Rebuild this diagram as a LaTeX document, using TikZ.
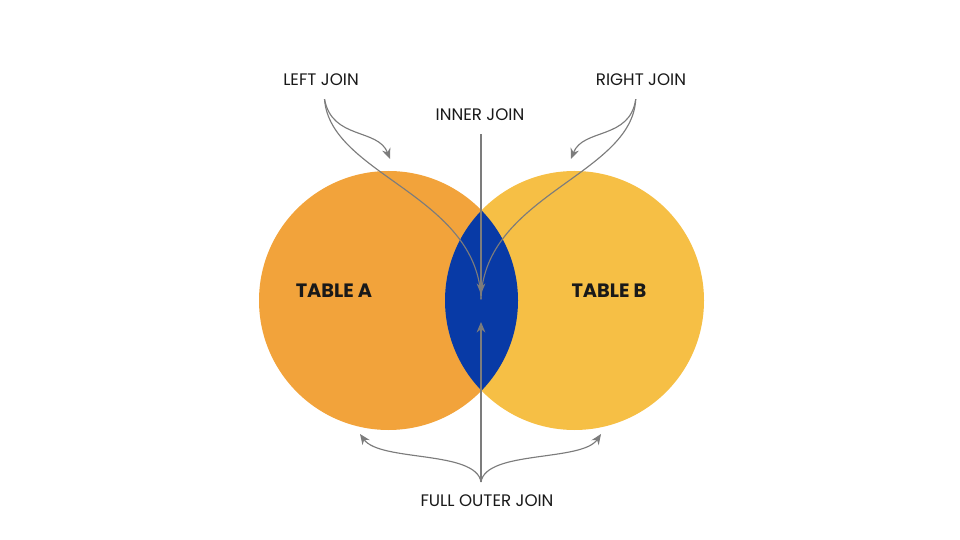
\documentclass[tikz,border=0pt]{standalone}
\usepackage{fontspec}
\setmainfont{Poppins}
\usepackage{tikz}
\usetikzlibrary{arrows.meta, positioning}

\definecolor{tableA}{HTML}{F2A33B}
\definecolor{tableB}{HTML}{F6BF45}
\definecolor{inner}{HTML}{083AA6}
\definecolor{arrowgray}{HTML}{7C7C7C}

\begin{document}
\begin{tikzpicture}[
    x=0.02cm, y=-0.02cm,
    every node/.style={font=\fontsize{9.5}{11}\selectfont, text=black!90},
    lbl/.style={inner sep=0pt, outer sep=7.5pt},
    tbl/.style={font=\fontsize{11}{13}\selectfont\bfseries, inner sep=0pt},
    link/.style={draw=arrowgray, line width=0.65pt},
    tip/.style={link, -{Stealth[length=6pt, width=5pt]}}
]
\useasboundingbox (0,0) rectangle (960,540);

% Circles
\fill[tableA] (388.5,300.5) circle (129.5);
\fill[tableB] (574.5,300.5) circle (129.5);

% Overlap
\begin{scope}
  \clip (388.5,300.5) circle (129.5);
  \fill[inner] (574.5,300.5) circle (129.5);
\end{scope}

% Table names
\node[tbl] (ta) at (334,291) {TABLE A};
\node[tbl] (tb) at (609,291) {TABLE B};

% Join labels
\node[lbl] (lj) at (321,80) {LEFT JOIN};
\node[lbl] (rj) at (641,80) {RIGHT JOIN};
\node[lbl] (ij) at (480,115) {INNER JOIN};
\node[lbl] (fj) at (487,501) {FULL OUTER JOIN};

% Arrow ends
\coordinate (mid) at (481,294);
\coordinate (midup) at (481,322);
\coordinate (ljend) at (390,159);
\coordinate (rjend) at (571,159);
\coordinate (fjstart) at (481,482);
\coordinate (fjleft) at (360,434);
\coordinate (fjright) at (601,434);

% Inner join
\draw[tip] (ij.south -| mid) -- (mid);

% Left join
\draw[tip] ([xshift=2pt]lj.south) .. controls (332,140) and (378,128) .. (ljend);
\draw[link] ([xshift=2pt]lj.south) .. controls (330,175) and (478,195) .. ([yshift=-3pt]mid);

% Right join
\draw[tip] ([xshift=-3pt]rj.south) .. controls (630,140) and (583,128) .. (rjend);
\draw[link] ([xshift=-3pt]rj.south) .. controls (632,175) and (484,195) .. ([yshift=-3pt]mid);

% Full outer join
\draw[tip] (fjstart) -- (midup);
\draw[tip] (fjstart) .. controls (476,450) and (380,462) .. (fjleft);
\draw[tip] (fjstart) .. controls (486,450) and (582,462) .. (fjright);

\end{tikzpicture}
\end{document}
